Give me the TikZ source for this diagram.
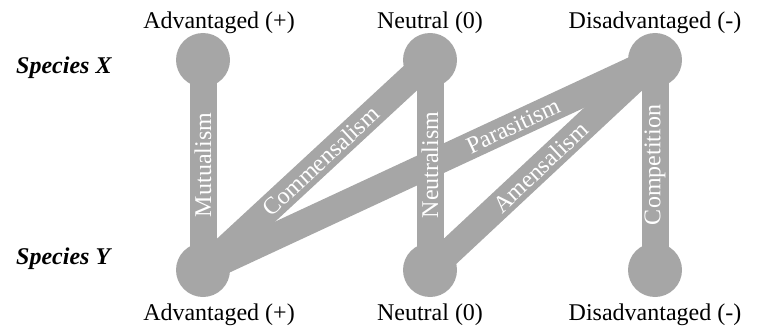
\documentclass[tikz,border=0pt]{standalone}
\usepackage{fontspec}
\setmainfont{Liberation Serif}
\definecolor{bargray}{RGB}{166,166,166}
\begin{document}
\begin{tikzpicture}[x=1pt,y=-1pt,
  dot/.style={circle,fill=bargray,minimum size=54pt,inner sep=0pt},
  bar/.style={draw=bargray,line width=27pt},
  barlabel/.style={sloped,text=white,inner sep=0pt,font=\fontsize{24}{28}\selectfont},
  head/.style={anchor=base,inner sep=0pt,font=\fontsize{24}{28}\selectfont},
  species/.style={anchor=west,inner sep=0pt,font=\fontsize{24}{28}\selectfont\bfseries\itshape}]
\useasboundingbox (0,0) rectangle (765,326);
\node[dot] (x1) at (203,60) {};
\node[dot] (x2) at (430,60) {};
\node[dot] (x3) at (655,60) {};
\node[dot] (y1) at (203,270) {};
\node[dot] (y2) at (430,270) {};
\node[dot] (y3) at (655,270) {};
\draw[bar] (y1.center) -- node[barlabel,pos=0.5] {Mutualism} (x1.center);
\draw[bar] (y1.center) -- (x2.center);
\draw[bar] (y1.center) -- (x3.center);
\draw[bar] (y2.center) -- (x2.center);
\draw[bar] (y2.center) -- (x3.center);
\draw[bar] (y3.center) -- node[barlabel,pos=0.5] {Competition} (x3.center);
\path (y1.center) -- node[barlabel,pos=0.52] {Commensalism} (x2.center);
\path (y1.center) -- node[barlabel,pos=0.686] {Parasitism} (x3.center);
\path (y2.center) -- node[barlabel,pos=0.5] {Neutralism} (x2.center);
\path (y2.center) -- node[barlabel,pos=0.49] {Amensalism} (x3.center);
\node[head] (hx1) at (219,29) {Advantaged (+)};
\node[head] (hx2) at (430,29) {Neutral (0)};
\node[head] (hx3) at (655,29) {Disadvantaged (-)};
\node[head] (hy1) at (219,320) {Advantaged (+)};
\node[head] (hy2) at (430,320) {Neutral (0)};
\node[head] (hy3) at (655,320) {Disadvantaged (-)};
\node[species] (sx) at (16,68) {Species X};
\node[species] (sy) at (16,259) {Species Y};
\end{tikzpicture}
\end{document}
